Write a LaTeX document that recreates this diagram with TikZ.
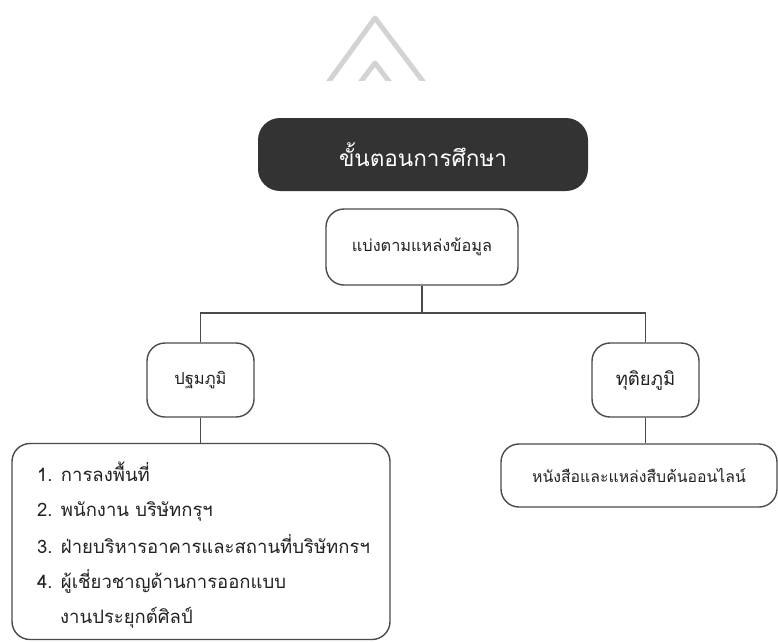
\documentclass[tikz,border=0pt]{standalone}
\usepackage{fontspec}
\newfontfamily\thaifont[Script=Thai]{Loma}
\definecolor{boxline}{HTML}{4A4A4A}
\definecolor{darkfill}{HTML}{333333}
\definecolor{txt}{HTML}{222222}
\definecolor{chevgray}{HTML}{D3D3D3}
\begin{document}
\begin{tikzpicture}[x=1pt,y=-1pt,
  rbox/.style={draw=boxline,line width=1.4pt,rounded corners=18pt,fill=white,
    text=txt,align=center,inner sep=0pt,font=\thaifont\fontsize{17}{20}\selectfont},
  titlebox/.style={fill=darkfill,rounded corners=22pt,text=white,inner sep=0pt,
    font=\thaifont\fontsize{22.5}{26}\selectfont},
  listitem/.style={anchor=base west,inner sep=0pt,text=txt,font=\thaifont\fontsize{18.5}{21}\selectfont},
  link/.style={draw=boxline,line width=1.4pt},
  chev/.style={draw=chevgray,line width=5pt,line join=round}]
\useasboundingbox (0,0) rectangle (778,641);
% faint chevron mark
\begin{scope}
\clip (300,0) rectangle (460,80);
\draw[chev] (327,84) -- (375,18) -- (425,84);
\draw[chev] (359,84) -- (375,63) -- (391,84);
\end{scope}
% nodes
\node[titlebox,minimum width=330pt,minimum height=73pt] (title) at (423,154.5) {ขั้นตอนการศึกษา};
\node[rbox,minimum width=192pt,minimum height=76pt,font=\thaifont\fontsize{16.3}{19}\selectfont] (src) at (422,247) {แบ่งตามแหล่งข้อมูล};
\node[rbox,minimum width=107pt,minimum height=74pt,font=\thaifont\fontsize{16.5}{19}\selectfont] (prim) at (200.5,380) {ปฐมภูมิ};
\node[rbox,minimum width=107pt,minimum height=74pt,font=\thaifont\fontsize{18.5}{21}\selectfont] (sec) at (645.5,380) {ทุติยภูมิ};
\node[rbox,minimum width=378pt,minimum height=196pt] (list) at (201,541.5) {};
\node[rbox,minimum width=276pt,minimum height=63pt,font=\thaifont\fontsize{15.8}{19}\selectfont] (secbox) at (639,475.5) {หนังสือและแหล่งสืบค้นออนไลน์};
\coordinate (bus) at (422,313);
% connectors
\draw[link] (src.south) -- (src.south |- bus);
\draw[link] (prim.north) -- (prim.north |- bus) -- (sec.north |- bus) -- (sec.north);
\draw[link] (prim.south) -- (prim.south |- list.north);
\draw[link] (sec.south) -- (sec.south |- secbox.north);
% list text
\node[listitem] (l1) at (37,481) {1. การลงพื้นที่};
\node[listitem] (l2) at (37,516) {2. พนักงาน บริษัทกรุฯ};
\node[listitem] (l3) at (37,553) {3. ฝ่ายบริหารอาคารและสถานที่บริษัทกรฯ};
\node[listitem] (l4) at (37,588) {4. ผู้เชี่ยวชาญด้านการออกแบบ};
\node[listitem] (l5) at (60,623) {งานประยุกต์ศิลป์};
\end{tikzpicture}
\end{document}
